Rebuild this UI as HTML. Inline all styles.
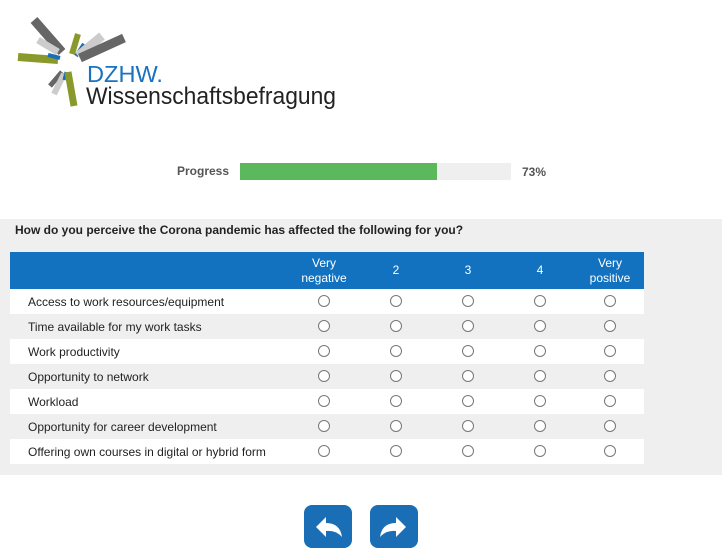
<!DOCTYPE html>
<html><head><style>
body{margin:0;width:722px;height:559px;background:#fff;font-family:"Liberation Sans",Arial,sans-serif;position:relative;overflow:hidden}
.abs{position:absolute}
table{border-collapse:collapse;table-layout:fixed}
.panel{left:0;top:219px;width:722px;height:256px;background:#efefef}
.q{left:15px;top:223px;font-size:12px;font-weight:bold;color:#222}
.tbl{left:10px;top:252px;width:634px}
th{background:#1272bf;color:#fff;font-weight:normal;font-size:12px;height:37px;padding:0;line-height:15px}
td{height:25px;padding:0;font-size:12px;color:#222}
tr.w td{background:#fff}
tr.g td{background:#efefef}
td.l{padding-left:18px}
td.c{text-align:center}
.r{display:inline-block;width:10px;height:10px;border:1px solid #777;border-radius:50%;vertical-align:middle;background:#fff;position:relative;top:-1px}
.btn{top:505px;width:48px;height:43px;background:#1a6eb5;border-radius:8px}
</style></head><body>
<svg class="abs" style="left:0;top:0" width="360" height="115">
<g stroke-linecap="butt">
<line x1="34" y1="20" x2="62" y2="52" stroke="#666" stroke-width="9"/>
<line x1="38" y1="40" x2="58" y2="52" stroke="#ccc" stroke-width="7"/>
<line x1="18" y1="57" x2="58" y2="60" stroke="#8a9a2a" stroke-width="8"/>
<line x1="48" y1="55" x2="60" y2="58" stroke="#1a6eb5" stroke-width="4"/>
<line x1="78" y1="34" x2="72" y2="54" stroke="#8a9a2a" stroke-width="6"/>
<line x1="84" y1="44" x2="76" y2="56" stroke="#1a6eb5" stroke-width="4"/>
<line x1="102" y1="36" x2="78" y2="56" stroke="#ccc" stroke-width="9"/>
<line x1="124" y1="38" x2="80" y2="58" stroke="#666" stroke-width="9"/>
<line x1="62" y1="72" x2="50" y2="86" stroke="#666" stroke-width="5"/>
<line x1="64" y1="74" x2="54" y2="94" stroke="#ccc" stroke-width="6"/>
<line x1="66" y1="72" x2="64" y2="80" stroke="#1a6eb5" stroke-width="3"/>
<line x1="68" y1="72" x2="74" y2="106" stroke="#8a9a2a" stroke-width="7"/>
</g>
<text x="87" y="82" font-family="Liberation Sans,sans-serif" font-size="23" fill="#1a72c0" textLength="76" lengthAdjust="spacingAndGlyphs">DZHW.</text>
<text x="86" y="104" font-family="Liberation Sans,sans-serif" font-size="24" fill="#222" textLength="250" lengthAdjust="spacingAndGlyphs">Wissenschaftsbefragung</text>
</svg>
<div class="abs" style="left:177px;top:164px;font-size:12px;font-weight:bold;color:#555">Progress</div>
<div class="abs" style="left:240px;top:163px;width:271px;height:17px;background:#efefef"></div>
<div class="abs" style="left:240px;top:163px;width:197px;height:17px;background:#5cb85c"></div>
<div class="abs" style="left:522px;top:165px;font-size:12px;font-weight:bold;color:#555">73%</div>
<div class="abs panel"></div>
<div class="abs q">How do you perceive the Corona pandemic has affected the following for you?</div>
<table class="abs tbl">
<colgroup><col style="width:278px"><col style="width:72px"><col style="width:72px"><col style="width:72px"><col style="width:72px"><col style="width:68px"></colgroup>
<tr><th></th><th>Very<br>negative</th><th>2</th><th>3</th><th>4</th><th>Very<br>positive</th></tr>
<tr class="w"><td class="l">Access to work resources/equipment</td><td class="c"><span class="r"></span></td><td class="c"><span class="r"></span></td><td class="c"><span class="r"></span></td><td class="c"><span class="r"></span></td><td class="c"><span class="r"></span></td></tr>
<tr class="g"><td class="l">Time available for my work tasks</td><td class="c"><span class="r"></span></td><td class="c"><span class="r"></span></td><td class="c"><span class="r"></span></td><td class="c"><span class="r"></span></td><td class="c"><span class="r"></span></td></tr>
<tr class="w"><td class="l">Work productivity</td><td class="c"><span class="r"></span></td><td class="c"><span class="r"></span></td><td class="c"><span class="r"></span></td><td class="c"><span class="r"></span></td><td class="c"><span class="r"></span></td></tr>
<tr class="g"><td class="l">Opportunity to network</td><td class="c"><span class="r"></span></td><td class="c"><span class="r"></span></td><td class="c"><span class="r"></span></td><td class="c"><span class="r"></span></td><td class="c"><span class="r"></span></td></tr>
<tr class="w"><td class="l">Workload</td><td class="c"><span class="r"></span></td><td class="c"><span class="r"></span></td><td class="c"><span class="r"></span></td><td class="c"><span class="r"></span></td><td class="c"><span class="r"></span></td></tr>
<tr class="g"><td class="l">Opportunity for career development</td><td class="c"><span class="r"></span></td><td class="c"><span class="r"></span></td><td class="c"><span class="r"></span></td><td class="c"><span class="r"></span></td><td class="c"><span class="r"></span></td></tr>
<tr class="w"><td class="l">Offering own courses in digital or hybrid form</td><td class="c"><span class="r"></span></td><td class="c"><span class="r"></span></td><td class="c"><span class="r"></span></td><td class="c"><span class="r"></span></td><td class="c"><span class="r"></span></td></tr>
</table>
<div class="abs btn" style="left:304px"><svg width="48" height="43"><path d="M12 22 L22 12 L22 18 Q36 18 38 32 Q32 25 22 26 L22 32 Z" fill="#fff"/></svg></div>
<div class="abs btn" style="left:370px"><svg width="48" height="43"><path d="M36 22 L26 12 L26 18 Q12 18 10 32 Q16 25 26 26 L26 32 Z" fill="#fff"/></svg></div>
</body></html>
